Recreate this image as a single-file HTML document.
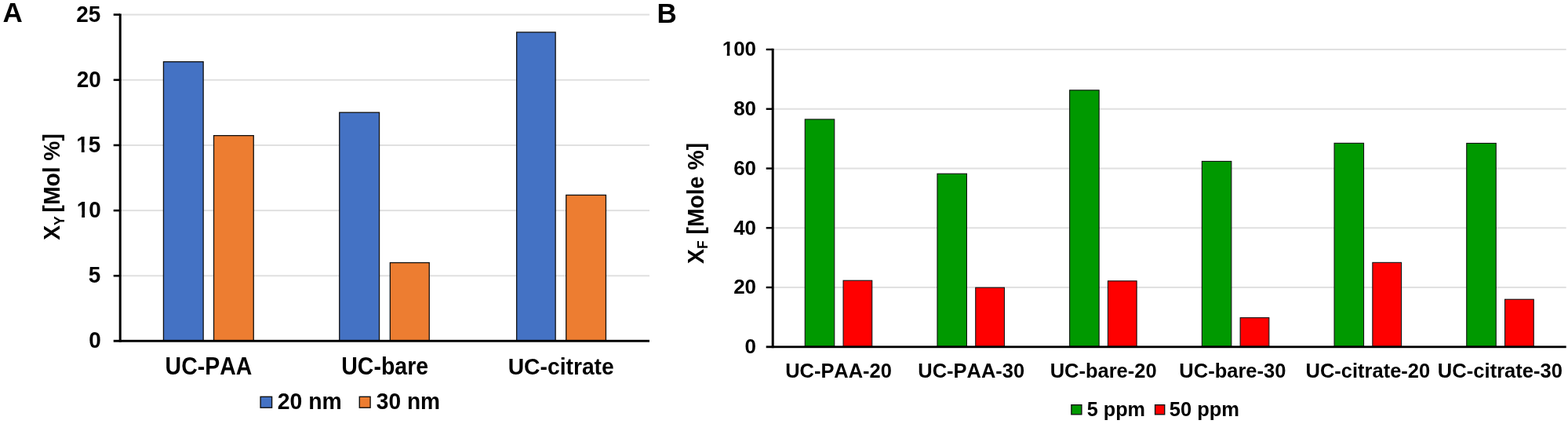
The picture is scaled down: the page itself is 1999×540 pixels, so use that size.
<!DOCTYPE html>
<html><head><meta charset="utf-8"><title>Chart</title>
<style>
html,body{margin:0;padding:0;background:#fff;}
body{width:1999px;height:540px;overflow:hidden;position:relative;}
svg{position:absolute;left:0;top:0;}
text{font-family:"Liberation Sans", Arial, sans-serif;font-weight:bold;fill:#000;font-kerning:none;font-feature-settings:"kern" 0;}
</style></head><body>
<svg width="1999" height="540" viewBox="0 0 1999 540">
<rect x="153.00" y="350.25" width="675.00" height="2.00" fill="#e0e0e0"/>
<rect x="153.00" y="267.10" width="675.00" height="2.00" fill="#e0e0e0"/>
<rect x="153.00" y="183.95" width="675.00" height="2.00" fill="#e0e0e0"/>
<rect x="153.00" y="100.80" width="675.00" height="2.00" fill="#e0e0e0"/>
<rect x="153.00" y="17.65" width="675.00" height="2.00" fill="#e0e0e0"/>
<rect x="208.45" y="78.65" width="50.70" height="355.10" fill="#4472c4" stroke="#111111" stroke-width="1.3"/>
<rect x="272.55" y="172.65" width="50.70" height="261.10" fill="#ed7d31" stroke="#111111" stroke-width="1.3"/>
<rect x="432.75" y="143.25" width="50.80" height="290.50" fill="#4472c4" stroke="#111111" stroke-width="1.3"/>
<rect x="497.35" y="334.55" width="49.90" height="99.20" fill="#ed7d31" stroke="#111111" stroke-width="1.3"/>
<rect x="658.65" y="41.05" width="49.50" height="392.70" fill="#4472c4" stroke="#111111" stroke-width="1.3"/>
<rect x="721.75" y="248.45" width="50.70" height="185.30" fill="#ed7d31" stroke="#111111" stroke-width="1.3"/>
<rect x="151.70" y="17.50" width="3.00" height="418.20" fill="#000000"/>
<rect x="144.70" y="432.80" width="683.30" height="2.90" fill="#000000"/>
<rect x="144.70" y="349.95" width="8.30" height="2.60" fill="#000000"/>
<rect x="144.70" y="266.80" width="8.30" height="2.60" fill="#000000"/>
<rect x="144.70" y="183.65" width="8.30" height="2.60" fill="#000000"/>
<rect x="144.70" y="100.50" width="8.30" height="2.60" fill="#000000"/>
<rect x="144.70" y="17.35" width="8.30" height="2.60" fill="#000000"/>
<text transform="translate(97.29,28.20) scale(1,1.066)" font-size="27.95">25</text>
<text transform="translate(97.66,111.13) scale(1,1.066)" font-size="27.95">20</text>
<text transform="translate(97.29,194.06) scale(1,1.066)" font-size="27.95" clip-path="url(#c0)">15</text>
<text transform="translate(97.66,276.99) scale(1,1.066)" font-size="27.95" clip-path="url(#c1)">10</text>
<text transform="translate(112.83,359.92) scale(1,1.066)" font-size="27.95">5</text>
<text transform="translate(113.20,442.85) scale(1,1.066)" font-size="27.95">0</text>
<text transform="translate(210.59,477.00) scale(1,1.07)" font-size="28.46">UC-PAA</text>
<text transform="translate(435.29,477.00) scale(1,1.07)" font-size="28.51">UC-bare</text>
<text transform="translate(647.70,477.00) scale(1,1.07)" font-size="28.28">UC-citrate</text>
<text transform="translate(3.53,28.10)" font-size="35">A</text>
<rect x="985.00" y="365.04" width="1011.70" height="2.00" fill="#e0e0e0"/>
<rect x="985.00" y="289.28" width="1011.70" height="2.00" fill="#e0e0e0"/>
<rect x="985.00" y="213.52" width="1011.70" height="2.00" fill="#e0e0e0"/>
<rect x="985.00" y="137.76" width="1011.70" height="2.00" fill="#e0e0e0"/>
<rect x="985.00" y="62.00" width="1011.70" height="2.00" fill="#e0e0e0"/>
<rect x="1026.25" y="151.95" width="37.50" height="289.30" fill="#009900" stroke="#111111" stroke-width="1.1"/>
<rect x="1075.05" y="357.25" width="36.70" height="84.00" fill="#ff0000" stroke="#111111" stroke-width="1.1"/>
<rect x="1194.95" y="221.25" width="37.50" height="220.00" fill="#009900" stroke="#111111" stroke-width="1.1"/>
<rect x="1243.75" y="366.25" width="36.70" height="75.00" fill="#ff0000" stroke="#111111" stroke-width="1.1"/>
<rect x="1363.65" y="114.85" width="37.50" height="326.40" fill="#009900" stroke="#111111" stroke-width="1.1"/>
<rect x="1412.45" y="357.85" width="36.70" height="83.40" fill="#ff0000" stroke="#111111" stroke-width="1.1"/>
<rect x="1532.35" y="205.45" width="37.50" height="235.80" fill="#009900" stroke="#111111" stroke-width="1.1"/>
<rect x="1581.15" y="404.65" width="36.70" height="36.60" fill="#ff0000" stroke="#111111" stroke-width="1.1"/>
<rect x="1701.05" y="182.35" width="37.50" height="258.90" fill="#009900" stroke="#111111" stroke-width="1.1"/>
<rect x="1749.85" y="334.35" width="36.70" height="106.90" fill="#ff0000" stroke="#111111" stroke-width="1.1"/>
<rect x="1869.75" y="182.45" width="37.50" height="258.80" fill="#009900" stroke="#111111" stroke-width="1.1"/>
<rect x="1918.55" y="381.25" width="36.70" height="60.00" fill="#ff0000" stroke="#111111" stroke-width="1.1"/>
<rect x="983.70" y="61.80" width="3.00" height="381.40" fill="#000000"/>
<rect x="976.70" y="440.40" width="1020.00" height="2.80" fill="#000000"/>
<rect x="976.70" y="364.84" width="8.30" height="2.40" fill="#000000"/>
<rect x="976.70" y="289.08" width="8.30" height="2.40" fill="#000000"/>
<rect x="976.70" y="213.32" width="8.30" height="2.40" fill="#000000"/>
<rect x="976.70" y="137.56" width="8.30" height="2.40" fill="#000000"/>
<rect x="976.70" y="61.80" width="8.30" height="2.40" fill="#000000"/>
<text transform="translate(920.69,71.47) scale(1,1.02)" font-size="26.0" clip-path="url(#c2)">100</text>
<text transform="translate(935.15,147.15) scale(1,1.02)" font-size="26.0">80</text>
<text transform="translate(935.15,222.83) scale(1,1.02)" font-size="26.0">60</text>
<text transform="translate(935.15,298.51) scale(1,1.02)" font-size="26.0">40</text>
<text transform="translate(935.15,374.19) scale(1,1.02)" font-size="26.0">20</text>
<text transform="translate(949.61,449.87) scale(1,1.02)" font-size="26.0">0</text>
<text transform="translate(1001.17,481.00)" font-size="25.44">UC-PAA-20</text>
<text transform="translate(1170.37,481.00)" font-size="25.44">UC-PAA-30</text>
<text transform="translate(1338.67,481.00)" font-size="25.49">UC-bare-20</text>
<text transform="translate(1503.37,481.00)" font-size="25.51">UC-bare-30</text>
<text transform="translate(1664.47,481.00)" font-size="25.51">UC-citrate-20</text>
<text transform="translate(1832.86,481.00)" font-size="25.59">UC-citrate-30</text>
<text transform="translate(837.46,28.80)" font-size="35">B</text>
<text transform="translate(76.20,305.85) rotate(-90) scale(1,1.02)" x="0" y="0" font-size="28.24">X<tspan font-size="17.5" dy="5.90">Y </tspan><tspan dy="-5.90">[Mol %]</tspan></text>
<text transform="translate(896.90,336.05) rotate(-90) scale(1,1.02)" x="0" y="0" font-size="28.39">X<tspan font-size="17.5" dy="5.40">F</tspan><tspan dy="-5.40"> [Mole %]</tspan></text>
<rect x="332.10" y="505.30" width="14.50" height="13.90" fill="#4472c4" stroke="#111111" stroke-width="1.4"/>
<rect x="458.30" y="505.30" width="13.80" height="13.90" fill="#ed7d31" stroke="#111111" stroke-width="1.4"/>
<text transform="translate(353.82,521.40) scale(1,1.065)" font-size="28.39">20 nm</text>
<text transform="translate(479.85,521.40) scale(1,1.065)" font-size="28.13">30 nm</text>
<rect x="1365.90" y="515.70" width="13.00" height="12.10" fill="#009900" stroke="#111111" stroke-width="1.4"/>
<rect x="1472.60" y="515.70" width="12.10" height="12.10" fill="#ff0000" stroke="#111111" stroke-width="1.4"/>
<text transform="translate(1385.72,530.00) scale(1,1.02)" font-size="25.24">5 ppm</text>
<text transform="translate(1490.71,530.00) scale(1,1.02)" font-size="25.53">50 ppm</text>
<defs><clipPath id="c0" clipPathUnits="userSpaceOnUse"><path d="M-50,-200H800V100H-50ZM1.06,-8.19H6.52V2.20H1.06ZM10.36,-8.19H15.90V2.20H10.36Z" clip-rule="evenodd"/></clipPath><clipPath id="c1" clipPathUnits="userSpaceOnUse"><path d="M-50,-200H800V100H-50ZM1.06,-8.19H6.52V2.20H1.06ZM10.36,-8.19H15.90V2.20H10.36Z" clip-rule="evenodd"/></clipPath><clipPath id="c2" clipPathUnits="userSpaceOnUse"><path d="M-50,-200H800V100H-50ZM0.94,-7.62H6.07V2.20H0.94ZM9.64,-7.62H14.79V2.20H9.64Z" clip-rule="evenodd"/></clipPath></defs>
</svg>
</body></html>
